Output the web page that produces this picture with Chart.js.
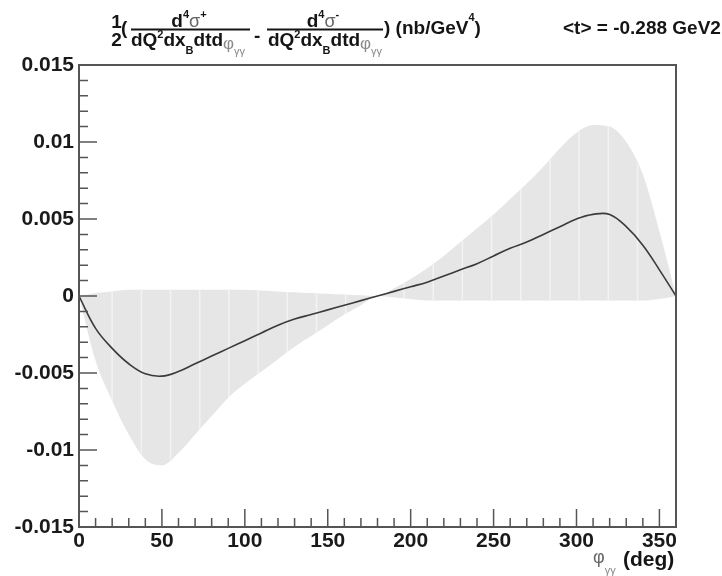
<!DOCTYPE html>
<html>
<head>
<meta charset="utf-8">
<script src="https://cdn.jsdelivr.net/npm/chart.js@4.4.0/dist/chart.umd.min.js"></script>
<style>
  html, body { margin: 0; padding: 0; background: #fff; }
  #c { display: block; }
</style>
</head>
<body>
<canvas id="c" width="722" height="576"></canvas>
<script>
// phi_gg (deg) and beam-charge asymmetry (nb/GeV^4)
const phi = [0, 10, 20, 30, 40, 50, 60, 70, 80, 90, 100, 110, 120, 130, 140, 150, 160, 170, 180,
             190, 200, 210, 220, 230, 240, 250, 260, 270, 280, 290, 300, 310, 320, 330, 340, 350, 360];
const asym = [0, -0.0021, -0.0034, -0.0044, -0.00505, -0.0052, -0.0049, -0.0044, -0.0039, -0.0034,
              -0.0029, -0.0024, -0.0019, -0.0015, -0.0012, -0.0009, -0.0006, -0.0003, 0,
              0.0003, 0.0006, 0.0009, 0.0013, 0.0017, 0.0021, 0.0026, 0.0031, 0.0035, 0.0040,
              0.0045, 0.0050, 0.0053, 0.0053, 0.0045, 0.0033, 0.0017, 0];
// error band (upper / lower edge)
const bandUp = [0, 0.0002, 0.0003, 0.0004, 0.0004, 0.0004, 0.0004, 0.0004, 0.0004, 0.0004,
                0.0004, 0.00035, 0.0003, 0.00025, 0.0002, 0.00015, 0.0001, 0.00005, 0,
                0.0005, 0.0011, 0.0018, 0.0026, 0.0035, 0.0044, 0.0053, 0.0063, 0.0073, 0.0084,
                0.0096, 0.0106, 0.0111, 0.0110, 0.0100, 0.0079, 0.0042, 0];
const bandLow = [0, -0.0042, -0.0068, -0.0090, -0.0106, -0.0110, -0.0102, -0.0090, -0.0078, -0.0066,
                 -0.0057, -0.0049, -0.0041, -0.0033, -0.0026, -0.0019, -0.0012, -0.0006, 0,
                 -0.0001, -0.0002, -0.0003, -0.0003, -0.0003, -0.0003, -0.0003, -0.0003, -0.0003, -0.0003,
                 -0.0003, -0.0003, -0.0003, -0.0003, -0.0003, -0.0003, -0.0002, 0];
const xTicks = [0, 50, 100, 150, 200, 250, 300, 350];
const yTicks = [-0.015, -0.01, -0.005, 0, 0.005, 0.01, 0.015];

const FONT = '"Liberation Sans", Arial, sans-serif';

function pts(vals) {
    return phi.map((p, i) => ({ x: p, y: vals[i] }));
}

// rich text: parts = [text, size, dy, color, bold]
function richWidth(ctx, parts) {
    let w = 0;
    parts.forEach(p => {
        ctx.font = (p[4] === false ? '' : 'bold ') + p[1] + 'px ' + FONT;
        w += ctx.measureText(p[0]).width;
    });
    return w;
}
function drawRich(ctx, x, y, parts, align) {
    if (align === 'center') x -= richWidth(ctx, parts) / 2;
    ctx.textAlign = 'left';
    ctx.textBaseline = 'alphabetic';
    parts.forEach(p => {
        ctx.font = (p[4] === false ? '' : 'bold ') + p[1] + 'px ' + FONT;
        ctx.fillStyle = p[3] || '#151515';
        ctx.fillText(p[0], x, y + (p[2] || 0));
        x += ctx.measureText(p[0]).width;
    });
}

// ROOT-like frame with inner ticks, band stripes and header text
const rootFrame = {
    id: 'rootFrame',
    beforeDatasetDraw(chart, args) {
        if (args.index !== 0) return;
        // faint light stripes seen across the error band
        const { ctx, scales: { x } } = chart;
        const up = chart.getDatasetMeta(1).data;
        const low = chart.getDatasetMeta(2).data;
        ctx.save();
        ctx.beginPath();
        up.forEach((p, i) => i ? ctx.lineTo(p.x, p.y) : ctx.moveTo(p.x, p.y));
        for (let i = low.length - 1; i >= 0; i--) ctx.lineTo(low[i].x, low[i].y);
        ctx.closePath();
        ctx.clip();
        ctx.strokeStyle = '#f3f3f3';
        ctx.lineWidth = 1.5;
        ctx.beginPath();
        for (let k = 0; k < 19; k++) {
            const px = x.getPixelForValue(20 + k * 17.6);
            ctx.moveTo(px, chart.chartArea.top);
            ctx.lineTo(px, chart.chartArea.bottom);
        }
        ctx.stroke();
        ctx.restore();
    },
    afterDatasetsDraw(chart) {
        const { ctx, chartArea: a, scales: { x, y } } = chart;
        ctx.save();
        ctx.strokeStyle = '#555';
        ctx.lineWidth = 2;
        ctx.strokeRect(a.left, a.top, a.right - a.left, a.bottom - a.top);
        ctx.lineWidth = 1.5;
        ctx.beginPath();
        for (let i = 0; i <= 36; i++) {
            const px = x.getPixelForValue(i * 10);
            const len = i % 5 === 0 ? 18 : 9;
            ctx.moveTo(px, a.bottom);
            ctx.lineTo(px, a.bottom - len);
        }
        for (let i = 0; i <= 30; i++) {
            const py = y.getPixelForValue(-0.015 + i * 0.001);
            const len = i % 5 === 0 ? 18 : 9;
            ctx.moveTo(a.left, py);
            ctx.lineTo(a.left + len, py);
        }
        ctx.stroke();
        ctx.restore();
    },
    afterDraw(chart) {
        const ctx = chart.ctx;
        ctx.save();
        const grey = '#8a8a8a';
        // 1/2
        drawRich(ctx, 116.5, 28, [['1', 19, 0]], 'center');
        drawRich(ctx, 116.5, 46, [['2', 19, 0]], 'center');
        drawRich(ctx, 121, 34, [['(', 19, 0]]);
        // fraction lines
        ctx.fillStyle = '#151515';
        ctx.fillRect(131, 28.5, 119, 2);
        ctx.fillRect(267, 28.5, 116, 2);
        const denom = [['dQ', 19, 0], ['2', 11, -8], ['dx', 19, 0], ['B', 11, 8], ['dtd', 19, 0],
                       ['φ', 17, 3, grey, false], ['γγ', 11, 9, grey, false]];
        drawRich(ctx, 189, 27, [['d', 19, 0], ['4', 11, -9], ['σ', 18, 0, '#666', false], ['+', 11, -9]], 'center');
        drawRich(ctx, 188, 46, denom, 'center');
        drawRich(ctx, 254, 42, [['-', 19, 0]]);
        drawRich(ctx, 323, 27, [['d', 19, 0], ['4', 11, -9], ['σ', 18, 0, '#666', false], ['-', 11, -9]], 'center');
        drawRich(ctx, 325, 46, denom, 'center');
        drawRich(ctx, 384, 34, [[') (nb/GeV', 19, 0], ['4', 11, -13], [')', 19, 0]]);
        drawRich(ctx, 563, 34, [['<t> = -0.288 GeV2', 19, 0]]);
        // x axis title
        drawRich(ctx, 593, 563, [['φ', 18, 0, '#666', false], ['γγ', 11, 11, grey, false]]);
        drawRich(ctx, 623, 566, [['(deg)', 21, 0]]);
        ctx.restore();
    }
};

const band = { pointRadius: 0, cubicInterpolationMode: 'monotone' };

new Chart(document.getElementById('c'), {
    type: 'line',
    data: {
        datasets: [
            {
                label: 'asymmetry',
                data: pts(asym),
                borderColor: '#3a3a3a',
                borderWidth: 1.6,
                pointRadius: 0,
                tension: 0.4,
                fill: false
            },
            {
                ...band,
                label: 'band up',
                data: pts(bandUp),
                borderColor: 'rgba(0,0,0,0)',
                borderWidth: 0,
                fill: false
            },
            {
                ...band,
                label: 'band low',
                data: pts(bandLow),
                borderColor: 'rgba(0,0,0,0)',
                borderWidth: 0,
                backgroundColor: '#e6e6e6',
                fill: '-1'
            }
        ]
    },
    options: {
        responsive: false,
        animation: false,
        devicePixelRatio: 1,
        layout: { padding: { top: 65, right: 46, left: 0, bottom: 0 } },
        plugins: {
            legend: { display: false },
            tooltip: { enabled: false }
        },
        scales: {
            x: {
                type: 'linear',
                min: 0,
                max: 360,
                afterBuildTicks: s => { s.ticks = xTicks.map(v => ({ value: v })); },
                afterFit: s => { s.height = 49; },
                grid: { display: false, drawTicks: false },
                border: { display: false },
                ticks: {
                    font: { family: FONT, size: 21, weight: 'bold' },
                    color: '#1a1a1a',
                    padding: 2,
                    maxRotation: 0
                }
            },
            y: {
                type: 'linear',
                min: -0.015,
                max: 0.015,
                afterBuildTicks: s => { s.ticks = yTicks.map(v => ({ value: v })); },
                afterFit: s => { s.width = 79; },
                grid: { display: false, drawTicks: false },
                border: { display: false },
                ticks: {
                    font: { family: FONT, size: 21, weight: 'bold' },
                    color: '#1a1a1a',
                    padding: 5,
                    callback: v => String(Math.round(v * 1000) / 1000)
                }
            }
        }
    },
    plugins: [rootFrame]
});
</script>
</body>
</html>
